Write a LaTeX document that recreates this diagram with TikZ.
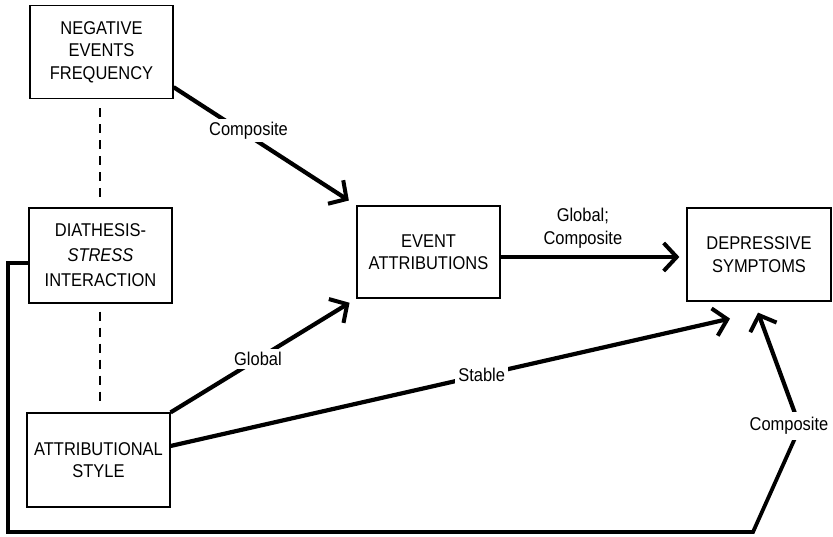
\documentclass[tikz,border=0pt]{standalone}
\usepackage{fontspec}
\setmainfont{Liberation Sans}[FakeStretch=0.89]
\usetikzlibrary{arrows.meta,calc}
\begin{document}
\begin{tikzpicture}[x=1pt,y=-1pt,
  box/.style={draw,line width=1.2pt,minimum width=143pt,minimum height=93pt,align=center,inner sep=0pt,font=\fontsize{18.5}{22.5}\selectfont},
  arr/.style={line width=4.2pt,-{Straight Barb[length=13pt,width=28pt,line width=4pt]}},
  lbl/.style={fill=white,inner sep=3pt,font=\fontsize{18.5}{22}\selectfont},
  dsh/.style={line width=2pt,dash pattern=on 9pt off 7pt}]
\useasboundingbox (0,0) rectangle (833,537);
\node[box] (NEG) at (101.5,52) {NEGATIVE\\EVENTS\\FREQUENCY};
\node[box,minimum height=95pt,font=\fontsize{18.5}{25}\selectfont] (DIA) at (100.5,255.5) {DIATHESIS-\\\textit{STRESS}\\INTERACTION};
\node[box,minimum height=94pt] (ATT) at (98.5,460) {ATTRIBUTIONAL\\STYLE};
\node[box,minimum height=92pt] (EVT) at (428.5,252) {EVENT\\ATTRIBUTIONS};
\node[box,minimum width=144pt] (DEP) at (759,254.5) {DEPRESSIVE\\SYMPTOMS};
% dashed links
\draw[dsh] ([yshift=-9pt]NEG.south -| 100,0) -- ([yshift=8pt]DIA.north -| 100,0);
\draw[dsh] ([yshift=-8pt]DIA.south -| 100,0) -- ([yshift=8pt]ATT.north -| 100,0);
% arrows
\draw[arr,shorten >=9pt] (NEG.-26) -- node[lbl,pos=.41,yshift=5pt]{Composite} (EVT.north west);
\draw[arr,shorten >=8pt] (ATT.north east) -- node[lbl,pos=.47]{Global} (EVT.south west);
\coordinate (stabEnd) at ($(DEP.south)+(-29,17)$);
\draw[arr] (ATT.11) -- node[lbl,pos=.556]{Stable} (stabEnd);
\draw[arr] ([yshift=-5pt]EVT.east) -- node[above=3pt,pos=.46,align=center,font=\fontsize{18.5}{23}\selectfont]{Global;\\Composite} ([xshift=-7pt,yshift=-5pt]EVT.east -| DEP.west);
% feedback path
\coordinate (fbL) at (8,263);
\coordinate (fbBL) at (8,532);
\coordinate (fbBR) at (753,532);
\coordinate (apex) at (800,427);
\coordinate (fbTip) at ($(DEP.south)+(-1,11)$);
\draw[line width=3.8pt,line join=miter] ([yshift=-7.5pt]DIA.west) -- (fbL) -- (fbBL) -- (fbBR) -- (apex);
\draw[arr] (apex) -- (fbTip);
\node[lbl,inner sep=5pt] (cmpL) at (789,426) {Composite};
\end{tikzpicture}
\end{document}
